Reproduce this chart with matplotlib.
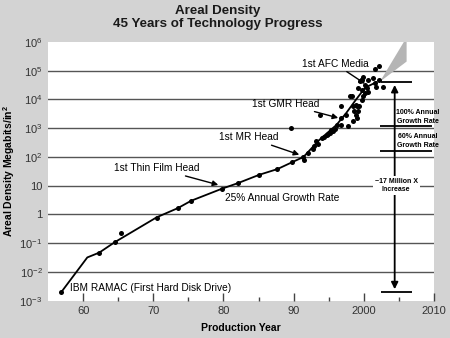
import matplotlib
matplotlib.use("Agg")
import matplotlib.pyplot as plt
import numpy as np

plt.rcParams['font.family'] = ['Liberation Sans', 'DejaVu Sans']
plt.rcParams['mathtext.fontset'] = 'custom'
plt.rcParams['mathtext.rm'] = 'Liberation Sans'
plt.rcParams['mathtext.bf'] = 'Liberation Sans:bold'

# trend line through the history of areal density (Mb/in^2)
trend_years = [1956.9, 1960.6, 1962.3, 1964.5, 1970.5, 1973.5, 1975.4, 1979.8,
               1982.1, 1985.1, 1987.7, 1989.8, 1991.4, 1993.7, 1996.1, 1997.5,
               1998.9, 2000.2, 2001.8]
trend_vals = [0.002, 0.032, 0.047, 0.108, 0.8, 1.66, 3.0, 7.9,
              12.4, 24, 38, 66, 100, 400, 1300, 3400,
              10000, 26000, 40000]

# individual products
prod_years = [1956.9, 1962.3, 1964.5, 1965.4, 1970.5, 1973.5, 1975.4, 1979.8,
              1982.1, 1985.1, 1987.7, 1989.8, 1989.6,
              1991.4, 1991.5, 1992.1, 1992.7, 1992.9, 1993.2, 1993.5, 1994.0,
              1994.3, 1994.7, 1994.9, 1995.2, 1995.3, 1995.6, 1995.9, 1996.2,
              1996.7, 1993.7, 1996.7, 1997.8, 1998.0, 1999.2, 1996.8, 1997.5,
              1998.5, 1999.0, 1999.2, 1999.8, 2000.1, 2000.4, 2000.6, 2000.2,
              1999.7, 1999.9, 2000.6, 1999.4, 2001.6, 2002.2, 2001.6, 2002.1,
              2001.7, 2002.7, 1999.9, 1999.7, 1998.9, 1999.3, 1998.6, 1998.9,
              1999.1, 1998.5, 2001.3, 1998.3]
prod_vals = [0.002, 0.047, 0.108, 0.22, 0.78, 1.66, 3.0, 7.9,
             12.4, 24, 38, 66, 1000,
             99, 80, 138, 195, 245, 347, 282, 457,
             500, 589, 645, 676, 890, 776, 955, 1320,
             1320, 2950, 5750, 1150, 12900, 25100, 2290, 2950,
             5750, 5750, 3890, 21900, 33100, 25100, 17800, 17000,
             49000, 63000, 49000, 42700, 115000, 141000, 37000, 49000,
             27500, 27500, 12900, 9800, 6600, 6000, 4070, 2950,
             2290, 1740, 56000, 12900]

# projected growth wedge
wedge_years = [2002.3, 2005.7, 2006.1, 2006.1]
wedge_vals = [41700, 1.0e6, 1.0e6, 209000]

# reference levels on the right
span_low, span_high = 0.002, 40000
rate_100, rate_60 = 1150, 165

ytick_vals = [1e-3, 1e-2, 1e-1, 1, 10, 1e2, 1e3, 1e4, 1e5, 1e6]
ytick_labels = [r'$\mathregular{10^{-3}}$', r'$\mathregular{10^{-2}}$',
                r'$\mathregular{10^{-1}}$', '1', '10',
                r'$\mathregular{10^{2}}$', r'$\mathregular{10^{3}}$',
                r'$\mathregular{10^{4}}$', r'$\mathregular{10^{5}}$',
                r'$\mathregular{10^{6}}$']
xtick_vals = [1960, 1970, 1980, 1990, 2000, 2010]
xtick_labels = ['60', '70', '80', '90', '2000', '2010']

bg = '#d3d3d3'
fig = plt.figure(figsize=(4.5, 3.38), dpi=100, facecolor=bg)
ax = fig.add_axes([0.1067, 0.1104, 0.8577, 0.7653])
ax.set_facecolor('white')
ax.set_yscale('log')
ax.set_xlim(1955, 2010)
ax.set_ylim(1e-3, 1e6)
for s in ax.spines.values():
    s.set_visible(False)

for v in ytick_vals[1:-1]:
    ax.axhline(v, color='#555555', lw=1.0, zorder=1)

ax.set_yticks(ytick_vals)
ax.set_yticklabels(ytick_labels)
ax.yaxis.set_minor_locator(matplotlib.ticker.NullLocator())
ax.tick_params(axis='y', length=0, pad=4, labelsize=8, colors='#333333')

ax.set_xticks(xtick_vals)
ax.set_xticklabels(xtick_labels)
ax.set_xticks(np.arange(1965, 2010, 10), minor=True)
ax.tick_params(axis='x', which='major', direction='in', length=6, width=1,
               color='#444444', pad=4, labelsize=8, labelcolor='#333333')
ax.tick_params(axis='x', which='minor', direction='in', length=3, width=1,
               color='#444444')

ax.fill(wedge_years, wedge_vals, color='#b5b5b5', lw=0, zorder=2)
ax.plot(trend_years, trend_vals, color='black', lw=1.3, zorder=3)
ax.scatter(prod_years, prod_vals, s=13, color='black', lw=0, zorder=4)

arrow = dict(arrowstyle='-|>', color='black', lw=1.0, mutation_scale=8,
             shrinkA=0, shrinkB=0)
fs = 7.3
ax.annotate('1st AFC Media', xy=(2000.16, 10**4.55), xytext=(1995.9, 10**5.24),
            ha='center', va='center', fontsize=fs, arrowprops=arrow)
ax.annotate('1st GMR Head', xy=(1996.35, 10**3.36), xytext=(1988.8, 10**3.85),
            ha='center', va='center', fontsize=fs, arrowprops=arrow)
ax.annotate('1st MR Head', xy=(1990.8, 10**2.08), xytext=(1983.6, 10**2.68),
            ha='center', va='center', fontsize=fs, arrowprops=arrow)
ax.annotate('1st Thin Film Head', xy=(1979.26, 10**1.03),
            xytext=(1970.5, 10**1.61), ha='center', va='center', fontsize=fs,
            arrowprops=arrow)
ax.text(1988.4, 10**0.59, '25% Annual Growth Rate', ha='center', va='center',
        fontsize=fs)
ax.text(1958.2, 10**-2.55, 'IBM RAMAC (First Hard Disk Drive)', ha='left',
        va='center', fontsize=fs)

# span of growth on the right
ax.hlines([span_high, span_low], 2002.4, 2006.8, color='black', lw=1.3,
          zorder=3)
ax.hlines([rate_100, rate_60], 2002.3, 2009.7, color='black', lw=1.3,
          zorder=3)
ax.annotate('', xy=(2004.4, span_high * 0.8), xytext=(2004.4, span_low * 1.25),
            arrowprops=dict(arrowstyle='<|-|>', color='black', lw=1.3,
                            mutation_scale=10, shrinkA=0, shrinkB=0),
            zorder=3)
ax.text(2007.7, 10**3.39, '100% Annual\nGrowth Rate', ha='center',
        va='center', fontsize=5, fontweight='bold', linespacing=1.3)
ax.text(2007.7, 10**2.56, '60% Annual\nGrowth Rate', ha='center',
        va='center', fontsize=5, fontweight='bold', linespacing=1.3)
ax.text(2004.6, 10**1.01, '~17 Million X\nIncrease', ha='center',
        va='center', fontsize=5, fontweight='bold', linespacing=1.3,
        bbox=dict(facecolor='white', edgecolor='none', pad=1.5), zorder=5)

ax.set_xlabel('Production Year', fontsize=7.5, fontweight='bold', labelpad=5)
ax.set_ylabel(r'Areal Density Megabits/in$^\mathbf{2}$', fontsize=7.5,
              fontweight='bold', labelpad=2)

fig.text(0.484, 0.948, 'Areal Density\n45 Years of Technology Progress',
         ha='center', va='center', fontsize=9.6, fontweight='bold',
         linespacing=1.2, color='#1a1a1a')

fig.savefig('out.png', dpi=100, facecolor=bg)
